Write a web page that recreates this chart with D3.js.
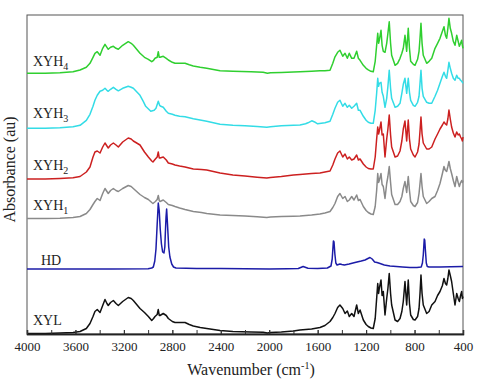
<!DOCTYPE html>
<html>
<head>
<meta charset="utf-8">
<script src="https://cdn.jsdelivr.net/npm/d3@7"></script>
<style>
  body { margin: 0; background: #fff; }
  svg { display: block; font-family: "Liberation Serif", "Times New Roman", serif; }
</style>
</head>
<body>
<svg id="chart" width="480" height="384"></svg>
<script>
// spectra: [wavenumber cm-1, absorbance above own baseline (au)]
const xyl = [[4000,0],[3850,0],[3728,0.5],[3620,1],[3562,2],[3510,5],[3480,10],[3455,17],[3439,22],[3420,24],[3397,21],[3375,28],[3356,34],[3340,30],[3329,28],[3310,31],[3287,33],[3265,30],[3246,28],[3210,32],[3164,36],[3140,35],[3122,33],[3067,25],[3030,21],[2998,17],[2970,13],[2955,15],[2943,17],[2925,19],[2916,24],[2908,18],[2902,18],[2875,20],[2850,18],[2833,15],[2800,12],[2778,11],[2740,11],[2695,11],[2660,9],[2627,7.5],[2570,6],[2516,5],[2406,3],[2300,2],[2150,1.5],[2050,1.2],[2015,0.6],[1990,1],[1900,1.5],[1800,2.5],[1746,3.5],[1650,4.5],[1581,6],[1540,8],[1498,12],[1475,16],[1457,20],[1435,26],[1416,28.5],[1393,25],[1374,20],[1355,22.5],[1339,17],[1319,20],[1300,17],[1278,28.5],[1264,20],[1250,23.5],[1223,13.5],[1200,9],[1182,7],[1160,5.5],[1141,5],[1125,15],[1113,35],[1104,50],[1097,40],[1091,45],[1077,53.5],[1068,38],[1058,42],[1044,18.5],[1030,35],[1020,45],[1009,60],[998,40],[989,28.5],[961,13.5],[940,12],[920,15],[905,22],[893,32],[879,52],[865,28.5],[852,53.5],[842,30],[832,18.5],[810,14],[796,13.5],[775,17],[763,25],[755,40],[747,58.5],[738,40],[728,28.5],[700,20],[680,22],[658,28.5],[631,32],[610,38],[590,42],[570,48],[557,55],[545,50],[535,48.5],[525,55],[516,63.5],[505,58],[494,52],[480,40],[466,28.5],[452,40],[440,35],[430,32],[420,38],[411,42],[405,35],[400,37]];

const hd = [[4000,0],[3600,0],[3300,0],[3000,0.3],[2970,1],[2957,2],[2945,8],[2935,20],[2925,45],[2916,66],[2908,58],[2900,40],[2890,25],[2880,17],[2869,16],[2862,22],[2858,35],[2852,52],[2847,60],[2840,45],[2830,22],[2820,12],[2805,5],[2790,2],[2770,1],[2600,0.5],[2400,0.5],[2200,0.3],[2000,0],[1850,0.3],[1760,0.5],[1720,2.5],[1680,0.8],[1600,0.5],[1520,1],[1490,3],[1480,10],[1470,28],[1465,27],[1458,15],[1450,6],[1440,4],[1416,5],[1400,4.5],[1380,4],[1340,5],[1292,6.5],[1240,8],[1209,9],[1185,10.5],[1168,11.5],[1150,10],[1130,7],[1110,6.5],[1085,5.5],[1050,4],[1003,3],[950,2.5],[900,2],[838,1.5],[780,1.5],[745,2],[735,6],[728,14],[720,30],[716,29],[710,18],[703,6],[695,2.5],[680,2],[590,2],[500,2.2],[400,2.5]];

const xyh1 = [[4000,0],[3850,0],[3728,0.3],[3620,1],[3562,2],[3510,5],[3480,9],[3455,14],[3439,17],[3420,20],[3397,18],[3375,25],[3356,30],[3340,27],[3329,25],[3310,28],[3287,30],[3265,28],[3246,27],[3210,30],[3164,33],[3140,32],[3122,30],[3067,24],[3030,21],[2998,19],[2970,16],[2960,15],[2940,17],[2925,19],[2916,23],[2908,18],[2902,17],[2875,18.5],[2850,16],[2833,14],[2800,13],[2778,12],[2740,10.5],[2695,9],[2627,7],[2560,6],[2516,5],[2406,3.5],[2300,3],[2200,2.5],[2100,1.8],[2020,1],[1990,1.4],[1900,2],[1800,2.3],[1746,2.5],[1650,3.5],[1581,4.5],[1540,5.5],[1498,7],[1475,11],[1457,15],[1435,22],[1416,25],[1393,20],[1374,22],[1355,17],[1339,18.5],[1319,22],[1300,18.5],[1278,23.5],[1264,18],[1250,19],[1223,12],[1200,8],[1182,6],[1160,4.5],[1141,4],[1125,12],[1113,28],[1104,45],[1097,36],[1091,38],[1077,45],[1068,34],[1058,32],[1044,20],[1030,35],[1020,42],[1009,52],[998,36],[989,24],[961,14],[940,14],[920,17],[905,22],[893,30],[879,37],[865,26],[852,42],[842,28],[832,17],[810,13],[796,12],[775,16],[763,25],[755,35],[747,45],[738,32],[728,22],[700,15],[680,17],[658,20],[631,22],[610,28],[590,35],[570,45],[557,52],[545,48],[535,47],[525,52],[516,57],[505,50],[494,45],[480,38],[466,32],[452,42],[440,36],[430,32],[420,36],[411,38],[405,36],[400,38]];

const xyh2 = [[4000,0],[3850,0],[3728,0.5],[3620,1.2],[3562,2.5],[3510,7],[3480,12],[3455,22],[3439,27],[3420,28],[3397,26],[3375,32],[3356,36],[3340,33],[3329,31],[3310,34],[3287,36],[3265,34],[3246,32],[3210,37],[3164,41],[3140,40],[3122,38],[3067,34],[3030,27],[2998,22],[2970,18],[2960,17],[2940,20],[2925,22],[2916,27],[2908,21],[2902,21],[2875,22],[2850,19],[2833,16],[2800,15],[2778,14],[2740,13],[2695,12],[2627,10],[2560,9.5],[2516,9],[2406,6],[2300,4],[2200,3],[2100,1.8],[2020,1],[1990,1.5],[1900,2.5],[1800,4],[1746,4.5],[1650,5.5],[1581,6],[1540,7],[1498,8],[1475,14],[1457,20],[1435,26],[1416,28],[1393,22],[1374,25],[1355,20],[1339,22],[1319,19],[1300,20],[1278,24],[1264,19],[1250,20],[1223,15],[1200,12],[1182,10.5],[1160,10],[1141,10],[1125,22],[1113,40],[1104,52],[1097,45],[1091,48],[1077,57],[1068,44],[1058,45],[1044,22],[1030,40],[1020,50],[1009,64],[998,44],[989,32],[961,22],[940,23],[920,28],[905,38],[893,50],[879,58],[865,38],[852,59],[842,40],[832,30],[810,24],[796,22],[775,27],[763,35],[755,48],[747,62],[738,45],[728,36],[700,30],[680,30],[658,32],[631,40],[610,45],[590,50],[570,54],[557,57],[545,55],[535,54],[525,60],[516,69],[505,60],[494,52],[480,46],[466,42],[452,47],[440,44],[430,45],[420,42],[411,40],[405,38],[400,42]];

const xyh3 = [[4000,0],[3850,0],[3728,0.5],[3620,1.5],[3562,3],[3510,8],[3480,14],[3455,22],[3439,28],[3420,33],[3397,37],[3375,38],[3356,40],[3340,38],[3329,37],[3310,39],[3287,41],[3265,39],[3246,37.5],[3210,40],[3164,42],[3140,41],[3122,40],[3067,33],[3040,27],[3020,22],[2978,17],[2950,18],[2935,20],[2916,27],[2905,23],[2895,22],[2875,21],[2850,17],[2833,15],[2800,14],[2778,13],[2740,12],[2695,11.5],[2627,9.5],[2560,8],[2516,7],[2406,4],[2300,3],[2200,2.5],[2100,1.8],[2020,1.1],[1990,1.6],[1900,2.5],[1800,3],[1746,3.3],[1700,4.5],[1680,5.5],[1649,7.5],[1620,6],[1600,4.5],[1540,5.5],[1498,7],[1475,14],[1457,20],[1435,26],[1416,28],[1393,22],[1374,25],[1355,21],[1339,23],[1319,20],[1300,22],[1278,25],[1264,18],[1250,18],[1223,12],[1200,8],[1182,6],[1160,5],[1141,5],[1125,18],[1113,35],[1104,50],[1097,42],[1091,45],[1077,46],[1068,36],[1058,32],[1044,21],[1030,30],[1020,42],[1009,58],[998,40],[989,30],[961,21],[940,22],[920,25],[905,35],[893,44],[879,50],[865,35],[852,50],[842,36],[832,28],[810,23],[796,22],[775,26],[763,32],[755,45],[747,58],[738,40],[728,32],[700,26],[680,25],[658,25],[631,32],[610,38],[590,45],[570,52],[557,56],[545,52],[535,50],[525,58],[516,66],[505,60],[494,55],[480,50],[466,48],[452,53],[440,50],[430,50],[420,48],[411,47],[405,46],[400,45]];

const xyh4 = [[4000,0],[3850,0],[3728,0.6],[3620,1.5],[3562,3.3],[3510,6],[3480,10],[3455,16],[3439,20],[3420,21.6],[3397,18],[3375,25],[3356,29],[3340,26],[3329,24],[3310,26],[3287,27],[3265,25],[3246,24],[3210,28],[3164,31.6],[3140,30],[3122,28],[3067,20],[3030,16],[2998,14],[2970,11.6],[2955,13],[2943,15],[2925,16],[2916,21.6],[2908,16],[2902,16],[2875,17],[2850,15],[2833,13.3],[2800,11],[2778,10],[2740,10],[2695,10],[2660,8.5],[2627,7.3],[2570,6],[2516,5],[2406,2.6],[2300,2],[2150,1.5],[2050,1],[2015,0],[1990,0.5],[1900,0.8],[1800,1.3],[1746,1.5],[1650,2],[1581,2.5],[1540,2.5],[1498,3],[1475,10],[1457,16.5],[1435,21],[1416,23],[1393,17],[1374,20],[1355,15],[1339,20],[1319,15],[1300,15],[1278,22],[1264,15],[1250,13],[1223,8],[1200,5],[1182,3.5],[1160,2],[1141,1.5],[1125,12],[1113,28],[1104,40],[1097,30],[1091,33],[1077,43],[1068,28],[1058,22],[1044,21],[1030,30],[1020,40],[1009,51.5],[998,30],[989,18],[961,8],[940,10],[920,15],[905,20],[893,25],[879,38],[865,22],[852,45],[842,25],[832,12],[810,9],[796,8],[775,14],[763,22],[755,35],[747,50],[738,30],[728,18],[700,10],[680,12],[658,15],[631,25],[610,30],[590,35],[570,42],[557,46.6],[545,38],[535,35],[525,45],[516,55],[505,45],[494,40],[480,32],[466,28],[452,38],[440,32],[430,27],[420,30],[411,33],[405,28],[400,25]];

const seriesNames = ["XYL", "HD", "XYH1", "XYH2", "XYH3", "XYH4"];
const seriesData = [xyl, hd, xyh1, xyh2, xyh3, xyh4];
const seriesOffsets = [0.5, 65, 115.5, 155, 205.7, 260.7]; // vertical stacking shift (au)
const xTicks = [4000, 3600, 3200, 2800, 2400, 2000, 1600, 1200, 800, 400];
const xMinorTicks = d3.range(4000, 399, -200);

const colors = ["#111111", "#1c1ca8", "#8a8a8a", "#cc2020", "#33dce6", "#2fcf2f"];
const labelX = [33, 41, 33, 33, 33, 33];
const labelDy = [-8.5, -4.5, -8.5, -9, -10, -7];

const svg = d3.select("#chart");
const plotLeft = 27, plotRight = 463, plotTop = 15, plotBottom = 334;

let x = d3.scaleLinear().domain([4000, 400]).range([plotLeft, plotRight]);
let y = d3.scaleLinear().domain([0, 320]).range([plotBottom, plotBottom - 320]);

// frame
svg.append("rect")
    .attr("x", plotLeft).attr("y", plotTop)
    .attr("width", plotRight - plotLeft).attr("height", plotBottom - plotTop)
    .attr("fill", "none").attr("stroke", "#555").attr("stroke-width", 1);

let line = d3.line()
    .x(d => x(d[0]))
    .y(d => y(d[1]));

seriesData.forEach((data, i) => {
    let off = seriesOffsets[i];
    svg.append("path")
        .datum(data.map(d => [d[0], d[1] + off]))
        .attr("fill", "none")
        .attr("stroke", colors[i])
        .attr("stroke-width", 1.5)
        .attr("stroke-linejoin", "round")
        .attr("d", line);
});

// bottom axis, ticks pointing inward
let axis = svg.append("g")
    .attr("transform", `translate(0,${plotBottom})`);
axis.append("g")
    .call(d3.axisBottom(x).tickValues(xMinorTicks).tickSize(-4).tickFormat(""));
axis.append("g")
    .call(d3.axisBottom(x).tickValues(xTicks).tickSize(-4).tickPadding(8).tickFormat(d3.format("d")));
axis.selectAll(".domain").attr("stroke", "#222").attr("stroke-width", 1.3);
axis.selectAll("line").attr("stroke", "#333");
axis.selectAll("text")
    .attr("font-family", "Liberation Serif, serif")
    .attr("font-size", 13)
    .attr("fill", "#222");

// series labels
seriesNames.forEach((name, i) => {
    let t = svg.append("text")
        .attr("x", labelX[i])
        .attr("y", y(seriesOffsets[i]) + labelDy[i])
        .attr("font-size", 14)
        .attr("fill", "#222");
    let m = name.match(/^([A-Z]+)(\d*)$/);
    t.append("tspan").text(m[1]);
    if (m[2]) {
        t.append("tspan").attr("font-size", 10).attr("dy", 4).text(m[2]);
    }
});

// axis titles
let xt = svg.append("text")
    .attr("x", (plotLeft + plotRight) / 2 + 6)
    .attr("y", 375)
    .attr("text-anchor", "middle")
    .attr("font-size", 16)
    .attr("fill", "#222");
xt.append("tspan").text("Wavenumber (cm");
xt.append("tspan").attr("font-size", 10).attr("dy", -6).text("-1");
xt.append("tspan").attr("dy", 6).text(")");

svg.append("text")
    .attr("transform", `translate(15,${(plotTop + plotBottom) / 2 - 5}) rotate(-90)`)
    .attr("text-anchor", "middle")
    .attr("font-size", 16)
    .attr("fill", "#222")
    .text("Absorbance (au)");
</script>
</body>
</html>
